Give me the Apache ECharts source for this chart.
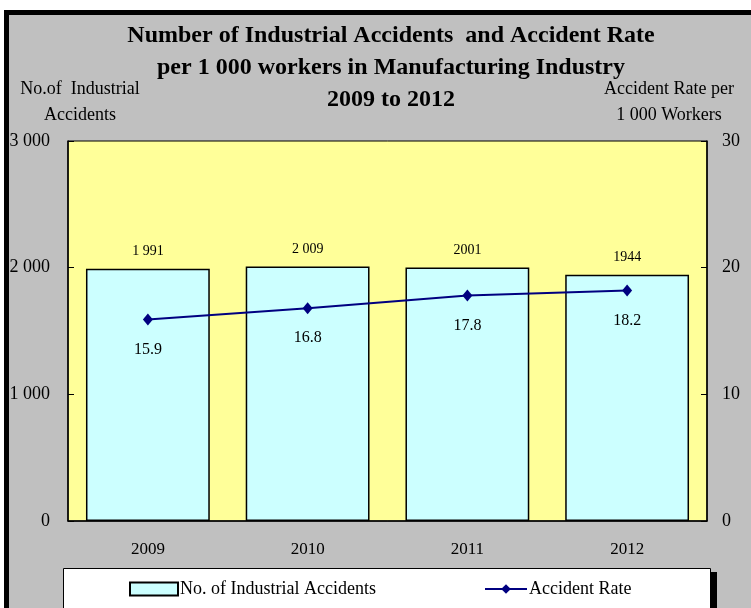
<!DOCTYPE html>
<html>
<head>
<meta charset="utf-8">
<script src="https://cdn.jsdelivr.net/npm/echarts@6/dist/echarts.min.js"></script>
<style>
html,body{margin:0;padding:0;background:#fff;}
#c{width:751px;height:608px;}
</style>
</head>
<body>
<div id="c"></div>
<script>
const years = ['2009', '2010', '2011', '2012'];
const accidents = [1991, 2009, 2001, 1944];
const accidentLabels = ['1 991', '2 009', '2001', '1944'];
const rates = [15.9, 16.8, 17.8, 18.2];
const leftTicks = ['0', '1 000', '2 000', '3 000'];
const rightTicks = ['0', '10', '20', '30'];
const titleLines = ['Number of Industrial Accidents  and Accident Rate', 'per 1 000 workers in Manufacturing Industry', '2009 to 2012'];
const leftName = ['No.of  Industrial', 'Accidents'];
const rightName = ['Accident Rate per', '1 000 Workers'];
const seriesNames = ['No. of Industrial Accidents', 'Accident Rate'];

const SERIF = '"Liberation Serif", "DejaVu Serif", serif';
const chart = echarts.init(document.getElementById('c'), null, {renderer: 'canvas'});

const graphics = [
  {type: 'rect', z: -20, shape: {x: 4, y: 10, width: 800, height: 700}, style: {fill: '#000'}},
  {type: 'rect', z: -19, shape: {x: 9, y: 15, width: 800, height: 700}, style: {fill: '#C0C0C0'}},
  {type: 'rect', z: -18, shape: {x: 69, y: 572, width: 648, height: 60}, style: {fill: '#000'}},
  {type: 'rect', z: -17, shape: {x: 63.5, y: 568.5, width: 647, height: 60}, style: {fill: '#fff', stroke: '#000', lineWidth: 1}}
];
titleLines.forEach((t, i) => {
  graphics.push({type: 'text', z: 5, style: {text: t, x: 391, y: 36 + i * 32, align: 'center', verticalAlign: 'middle', font: 'bold 24px ' + SERIF, fill: '#000'}});
});
leftName.forEach((t, i) => {
  graphics.push({type: 'text', z: 5, style: {text: t, x: 80, y: 89 + i * 26, align: 'center', verticalAlign: 'middle', font: '18px ' + SERIF, fill: '#000'}});
});
rightName.forEach((t, i) => {
  graphics.push({type: 'text', z: 5, style: {text: t, x: 669, y: 89 + i * 26, align: 'center', verticalAlign: 'middle', font: '18px ' + SERIF, fill: '#000'}});
});

const option = {
  animation: false,
  backgroundColor: '#fff',
  textStyle: {fontFamily: SERIF},
  graphic: graphics,
  grid: {
    left: 68, right: 44, top: 141, bottom: 87,
    show: true, backgroundColor: '#FFFF99', borderColor: '#000', borderWidth: 1
  },
  legend: [
    {
      data: [seriesNames[0]], icon: 'rect', left: 124, top: 575, itemWidth: 48, itemHeight: 13, itemGap: 4,
      textStyle: {fontFamily: SERIF, fontSize: 18, color: '#000', padding: [0, 0, 0, -3]}
    },
    {
      data: [seriesNames[1]], left: 479, top: 575, itemWidth: 42, itemHeight: 12,
      textStyle: {fontFamily: SERIF, fontSize: 18, color: '#000', padding: [0, 0, 0, -3]}
    }
  ],
  xAxis: {
    type: 'category', data: years,
    axisLine: {lineStyle: {color: '#000', width: 1.5}},
    axisTick: {inside: true, length: 6, lineStyle: {color: '#000'}},
    axisLabel: {color: '#000', fontFamily: SERIF, fontSize: 17, margin: 20}
  },
  yAxis: [
    {
      type: 'value', min: 0, max: 3000, interval: 1000,
      axisLine: {show: true, lineStyle: {color: '#000', width: 1.5}},
      axisTick: {show: true, inside: true, length: 6, lineStyle: {color: '#000'}},
      splitLine: {show: false},
      axisLabel: {color: '#000', fontFamily: SERIF, fontSize: 18, margin: 18,
        formatter: v => leftTicks[Math.round(v / 1000)]}
    },
    {
      type: 'value', min: 0, max: 30, interval: 10, position: 'right',
      axisLine: {show: true, lineStyle: {color: '#000', width: 1.5}},
      axisTick: {show: true, inside: true, length: 6, lineStyle: {color: '#000'}},
      splitLine: {show: false},
      axisLabel: {color: '#000', fontFamily: SERIF, fontSize: 18, margin: 15,
        formatter: v => rightTicks[Math.round(v / 10)]}
    }
  ],
  series: [
    {
      name: seriesNames[0], type: 'bar', data: accidents, yAxisIndex: 0,
      barCategoryGap: '22.5%',
      itemStyle: {color: '#CCFFFF', borderColor: '#000', borderWidth: 1.5},
      label: {show: true, position: 'top', distance: 10, color: '#000', fontFamily: SERIF, fontSize: 14,
        formatter: p => accidentLabels[p.dataIndex]}
    },
    {
      name: seriesNames[1], type: 'line', data: rates, yAxisIndex: 1,
      symbol: 'diamond', symbolSize: [10, 12],
      lineStyle: {color: '#000080', width: 2},
      itemStyle: {color: '#000080'},
      label: {show: true, position: 'bottom', distance: 16, color: '#000', fontFamily: SERIF, fontSize: 16}
    }
  ]
};
chart.setOption(option);
</script>
</body>
</html>
